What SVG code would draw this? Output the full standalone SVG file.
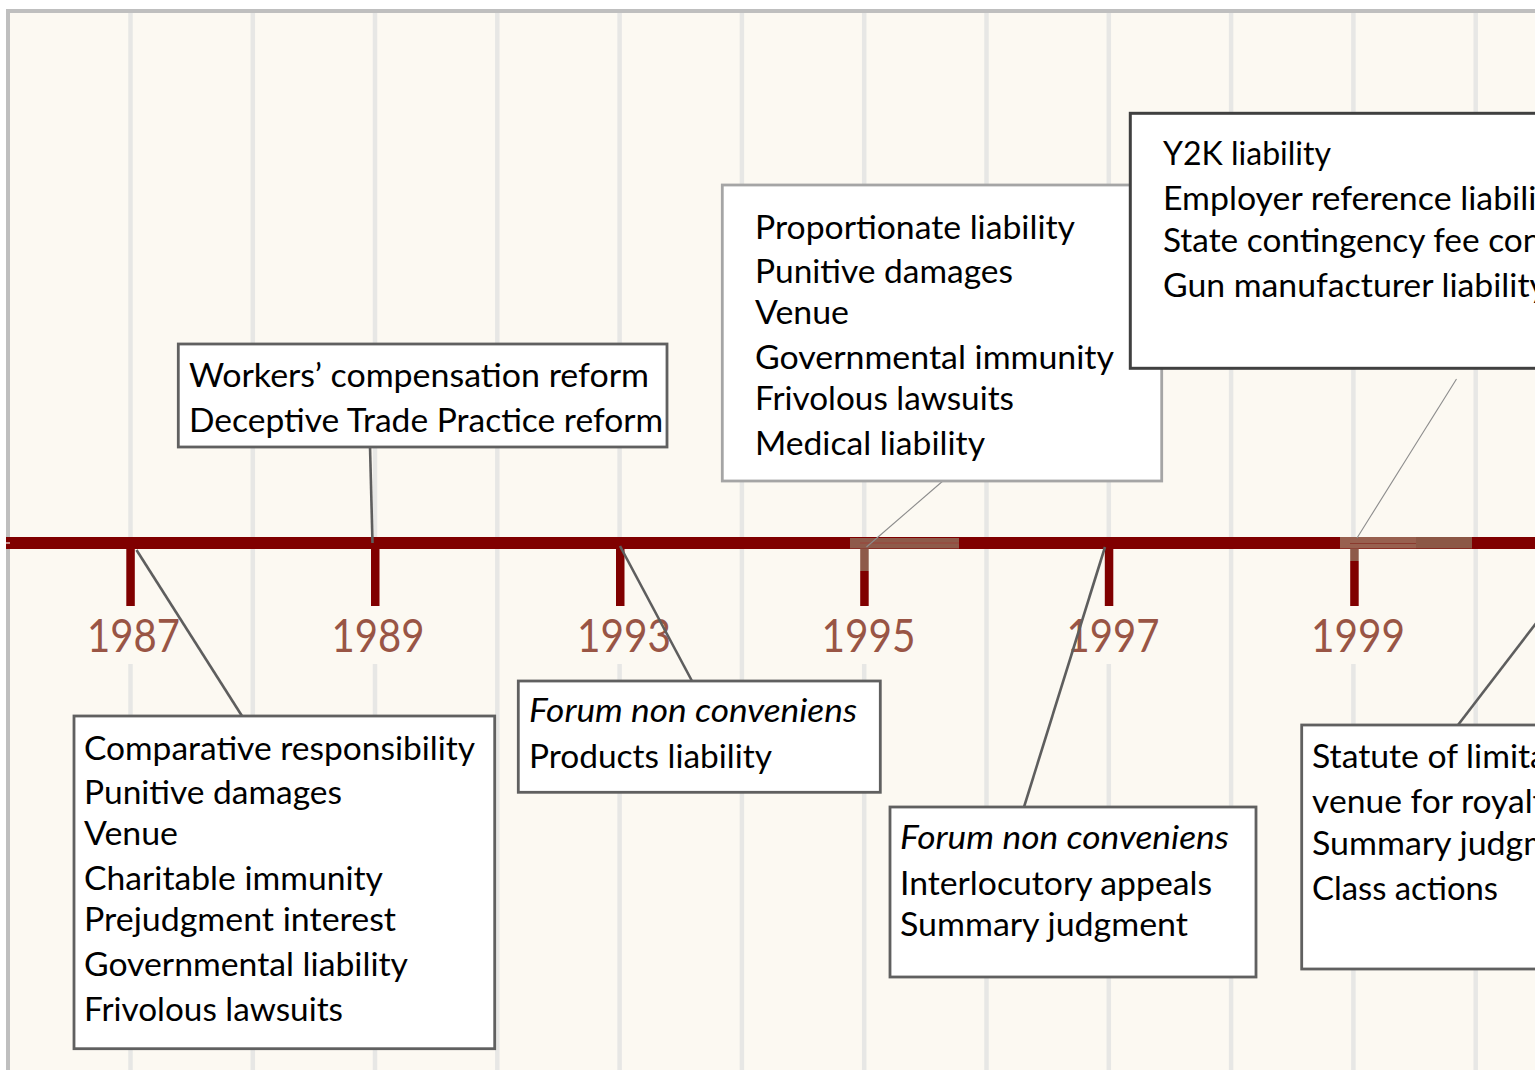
<svg xmlns="http://www.w3.org/2000/svg" width="1535" height="1070" viewBox="0 0 1535 1070">
<defs>
<style>
.grid{stroke:#E7E7E5;stroke-width:4.5}
.box{fill:#ffffff;stroke:#606060;stroke-width:2.8}
.t{font-family:Lato,"Liberation Sans",sans-serif;font-size:33px;fill:#000000}
.i{font-style:italic}
.yr{font-family:Lato,"Liberation Sans",sans-serif;font-weight:400;font-size:47px;fill:#995545;text-anchor:middle}
.con{stroke:#5E5E5E;stroke-width:2.6;fill:none}
.thin{stroke:#8C8C8C;stroke-width:1.1;fill:none}
.tick{fill:#800000}
.hl{fill:#8E5A4A}
</style>
</defs>
<rect x="0" y="0" width="1535" height="1070" fill="#ffffff"/>
<rect x="8" y="11" width="1540" height="1070" fill="#FCF9F2"/>
<line x1="6" y1="11" x2="1535" y2="11" stroke="#BFBFBF" stroke-width="4"/>
<line x1="8" y1="9" x2="8" y2="1070" stroke="#BFBFBF" stroke-width="4"/>

<g id="gridlines">
<line class="grid" x1="130.5" y1="13" x2="130.5" y2="549"/><line class="grid" x1="130.5" y1="664" x2="130.5" y2="1070"/>
<line class="grid" x1="252.8" y1="13" x2="252.8" y2="1070"/>
<line class="grid" x1="375" y1="13" x2="375" y2="549"/><line class="grid" x1="375" y1="664" x2="375" y2="1070"/>
<line class="grid" x1="497.3" y1="13" x2="497.3" y2="1070"/>
<line class="grid" x1="619.6" y1="13" x2="619.6" y2="549"/><line class="grid" x1="619.6" y1="664" x2="619.6" y2="1070"/>
<line class="grid" x1="741.9" y1="13" x2="741.9" y2="1070"/>
<line class="grid" x1="864.2" y1="13" x2="864.2" y2="549"/><line class="grid" x1="864.2" y1="664" x2="864.2" y2="1070"/>
<line class="grid" x1="986.5" y1="13" x2="986.5" y2="1070"/>
<line class="grid" x1="1108.8" y1="13" x2="1108.8" y2="549"/><line class="grid" x1="1108.8" y1="664" x2="1108.8" y2="1070"/>
<line class="grid" x1="1231.1" y1="13" x2="1231.1" y2="1070"/>
<line class="grid" x1="1353.4" y1="13" x2="1353.4" y2="549"/><line class="grid" x1="1353.4" y1="664" x2="1353.4" y2="1070"/>
<line class="grid" x1="1475.7" y1="13" x2="1475.7" y2="1070"/>
</g>

<g id="timeline">
<rect x="6" y="537" width="1529" height="12" fill="#800000"/>
<line x1="6" y1="543" x2="10" y2="543" stroke="#E0C0C0" stroke-width="1.5"/>
<rect class="tick" x="126.3" y="549" width="8.5" height="57"/>
<rect class="tick" x="371" y="549" width="8.5" height="57"/>
<rect class="tick" x="616" y="549" width="8.5" height="57"/>
<rect class="hl" x="850" y="538" width="109" height="10.5"/>
<line x1="860" y1="543" x2="959" y2="543" stroke="#9A4238" stroke-width="1"/>
<rect class="hl" x="860.2" y="548.5" width="8.5" height="22.5"/>
<rect class="tick" x="860.2" y="571" width="8.5" height="35"/>
<rect class="tick" x="1104.8" y="549" width="8.5" height="57"/>
<rect x="1340" y="537" width="76" height="11.5" fill="#98604F"/>
<rect x="1416" y="537" width="56" height="11.5" fill="#8C5745"/>
<line x1="1350" y1="543.5" x2="1416" y2="543.5" stroke="#8A3A2E" stroke-width="1"/>
<rect class="hl" x="1350.2" y="548.5" width="8.5" height="12.5"/>
<rect class="tick" x="1350.2" y="561" width="8.5" height="45"/>
</g>

<g id="years">
<text class="yr" x="133.5" y="652" textLength="93" lengthAdjust="spacingAndGlyphs">1987</text>
<text class="yr" x="378" y="652" textLength="93" lengthAdjust="spacingAndGlyphs">1989</text>
<text class="yr" x="624" y="652" textLength="94" lengthAdjust="spacingAndGlyphs">1993</text>
<text class="yr" x="868.5" y="652" textLength="94" lengthAdjust="spacingAndGlyphs">1995</text>
<text class="yr" x="1113" y="652" textLength="93" lengthAdjust="spacingAndGlyphs">1997</text>
<text class="yr" x="1358" y="652" textLength="94" lengthAdjust="spacingAndGlyphs">1999</text>
</g>

<g id="connectors">
<line class="con" x1="136.5" y1="550" x2="242" y2="716"/>
<line class="con" x1="372.5" y1="543" x2="370" y2="446"/>
<line class="con" x1="620" y1="546" x2="692" y2="681"/>
<line class="thin" x1="866.5" y1="547" x2="944" y2="480"/>
<line class="con" x1="1105" y1="547" x2="1024" y2="807"/>
<line class="thin" x1="1357" y1="538" x2="1456.5" y2="379"/>
<line class="con" x1="1458" y1="725" x2="1560" y2="592"/>
</g>

<g id="node-1987">
<rect class="box" x="74" y="716" width="420.7" height="332.7"/>
<text class="t" x="84" y="760" textLength="391" lengthAdjust="spacingAndGlyphs">Comparative responsibility</text>
<text class="t" x="84" y="804" textLength="258" lengthAdjust="spacingAndGlyphs">Punitive damages</text>
<text class="t" x="84" y="845" textLength="94" lengthAdjust="spacingAndGlyphs">Venue</text>
<text class="t" x="84" y="890" textLength="299" lengthAdjust="spacingAndGlyphs">Charitable immunity</text>
<text class="t" x="84" y="931" textLength="312" lengthAdjust="spacingAndGlyphs">Prejudgment interest</text>
<text class="t" x="84" y="976" textLength="324" lengthAdjust="spacingAndGlyphs">Governmental liability</text>
<text class="t" x="84" y="1021" textLength="259" lengthAdjust="spacingAndGlyphs">Frivolous lawsuits</text>
</g>

<g id="node-1989">
<rect class="box" x="178.3" y="344" width="488.7" height="103"/>
<text class="t" x="189" y="387" textLength="460" lengthAdjust="spacingAndGlyphs">Workers’ compensation reform</text>
<text class="t" x="189" y="432" textLength="474" lengthAdjust="spacingAndGlyphs">Deceptive Trade Practice reform</text>
</g>

<g id="node-1993">
<rect class="box" x="518.3" y="681" width="362" height="111.3"/>
<text class="t i" x="529" y="722" textLength="328" lengthAdjust="spacingAndGlyphs">Forum non conveniens</text>
<text class="t" x="529" y="768" textLength="243" lengthAdjust="spacingAndGlyphs">Products liability</text>
</g>

<g id="node-1995">
<rect class="box" x="722.3" y="185" width="439.4" height="296" style="stroke:#A5A5A5"/>
<text class="t" x="755" y="239" textLength="320" lengthAdjust="spacingAndGlyphs">Proportionate liability</text>
<text class="t" x="755" y="283" textLength="258" lengthAdjust="spacingAndGlyphs">Punitive damages</text>
<text class="t" x="755" y="324" textLength="94" lengthAdjust="spacingAndGlyphs">Venue</text>
<text class="t" x="755" y="369" textLength="359" lengthAdjust="spacingAndGlyphs">Governmental immunity</text>
<text class="t" x="755" y="410" textLength="259" lengthAdjust="spacingAndGlyphs">Frivolous lawsuits</text>
<text class="t" x="755" y="455" textLength="230" lengthAdjust="spacingAndGlyphs">Medical liability</text>
</g>

<g id="node-1999-top">
<rect class="box" x="1130.3" y="113.3" width="420" height="255" style="stroke:#404040;stroke-width:3"/>
<text class="t" x="1163" y="165" textLength="168" lengthAdjust="spacingAndGlyphs">Y2K liability</text>
<text class="t" x="1163" y="210" textLength="403" lengthAdjust="spacingAndGlyphs">Employer reference liability</text>
<text class="t" x="1163" y="252" textLength="461" lengthAdjust="spacingAndGlyphs">State contingency fee contracts</text>
<text class="t" x="1163" y="297" textLength="384" lengthAdjust="spacingAndGlyphs">Gun manufacturer liability</text>
</g>

<g id="node-1997">
<rect class="box" x="890" y="807" width="366" height="170"/>
<text class="t i" x="900" y="849" textLength="329" lengthAdjust="spacingAndGlyphs">Forum non conveniens</text>
<text class="t" x="900" y="895" textLength="312" lengthAdjust="spacingAndGlyphs">Interlocutory appeals</text>
<text class="t" x="900" y="936" textLength="288" lengthAdjust="spacingAndGlyphs">Summary judgment</text>
</g>

<g id="node-2001">
<rect class="box" x="1301.7" y="725" width="300" height="244"/>
<text class="t" x="1312" y="768" textLength="308" lengthAdjust="spacingAndGlyphs">Statute of limitations</text>
<text class="t" x="1312" y="813" textLength="250" lengthAdjust="spacingAndGlyphs">venue for royalty</text>
<text class="t" x="1312" y="855" textLength="288" lengthAdjust="spacingAndGlyphs">Summary judgment</text>
<text class="t" x="1312" y="900" textLength="186" lengthAdjust="spacingAndGlyphs">Class actions</text>
</g>
</svg>
